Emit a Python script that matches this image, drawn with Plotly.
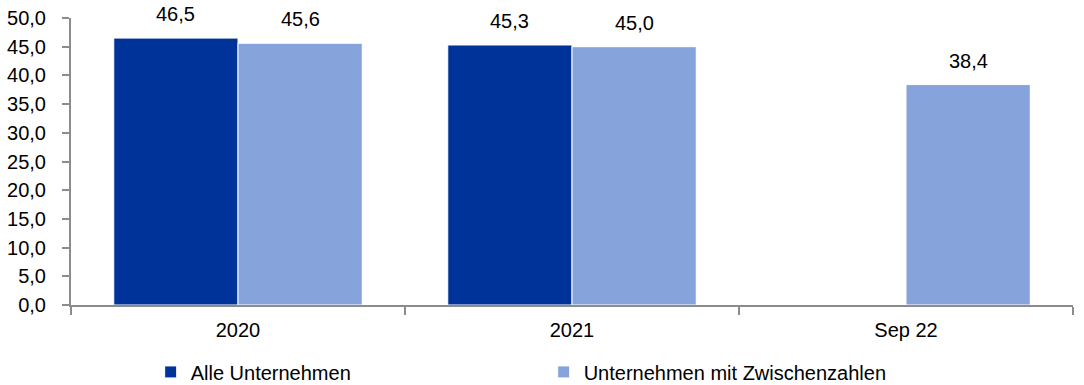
import plotly.graph_objects as go

categories = ["2020", "2021", "Sep 22"]
alle = [46.5, 45.3, None]
zwischen = [45.6, 45.0, 38.4]
y_ticks = [0, 5, 10, 15, 20, 25, 30, 35, 40, 45, 50]

FONT_FAMILY = "Liberation Sans, Arial, sans-serif"
font = dict(family=FONT_FAMILY, size=20, color="#000000")
AXIS_GREY = "#8c8c8c"
BARGAP = 0.256

fig = go.Figure()
fig.add_trace(go.Bar(
    x=categories, y=alle, name="Alle Unternehmen",
    marker=dict(color="#003399", line=dict(color="#ffffff", width=1)),
))
fig.add_trace(go.Bar(
    x=categories, y=zwischen, name="Unternehmen mit Zwischenzahlen",
    marker=dict(color="#87A3DB", line=dict(color="#ffffff", width=1)),
))

# value labels placed above each bar (grouped offsets derived from bargap)
half = (1 - BARGAP) / 4
for series, off in ((alle, -half), (zwischen, half)):
    for i, v in enumerate(series):
        if v is None:
            continue
        fig.add_annotation(
            x=i + off, y=v, xref="x", yref="y",
            text=f"{v:.1f}".replace(".", ","),
            showarrow=False, yshift=24, yanchor="middle",
            font=font,
        )

fig.update_layout(
    width=1084, height=385,
    margin=dict(l=71, r=11, t=18, b=80),
    paper_bgcolor="white", plot_bgcolor="white",
    separators=",.",
    barmode="group", bargap=BARGAP, bargroupgap=0,
    font=font,
    showlegend=True,
    legend=dict(orientation="h", xref="container", yref="container",
                x=0.139, xanchor="left", y=0.034, yanchor="middle",
                entrywidth=348, entrywidthmode="pixels", font=font,
                itemwidth=30, traceorder="normal",
                bgcolor="rgba(0,0,0,0)"),
    xaxis=dict(
        type="category", range=[-0.5, 2.5], automargin=False,
        showline=True, linecolor=AXIS_GREY, linewidth=2,
        ticks="outside", tickson="boundaries", ticklen=8, tickcolor=AXIS_GREY, tickwidth=2,
        ticklabelstandoff=6,
        showgrid=False, tickfont=font,
    ),
    yaxis=dict(
        range=[0, 50], tickvals=y_ticks, tickformat=".1f", automargin=False,
        showline=True, linecolor=AXIS_GREY, linewidth=2,
        ticks="outside", ticklen=7, tickcolor=AXIS_GREY, tickwidth=2,
        ticklabelstandoff=12,
        showgrid=False, zeroline=False, tickfont=font,
    ),
)

fig.write_html("out.html")
